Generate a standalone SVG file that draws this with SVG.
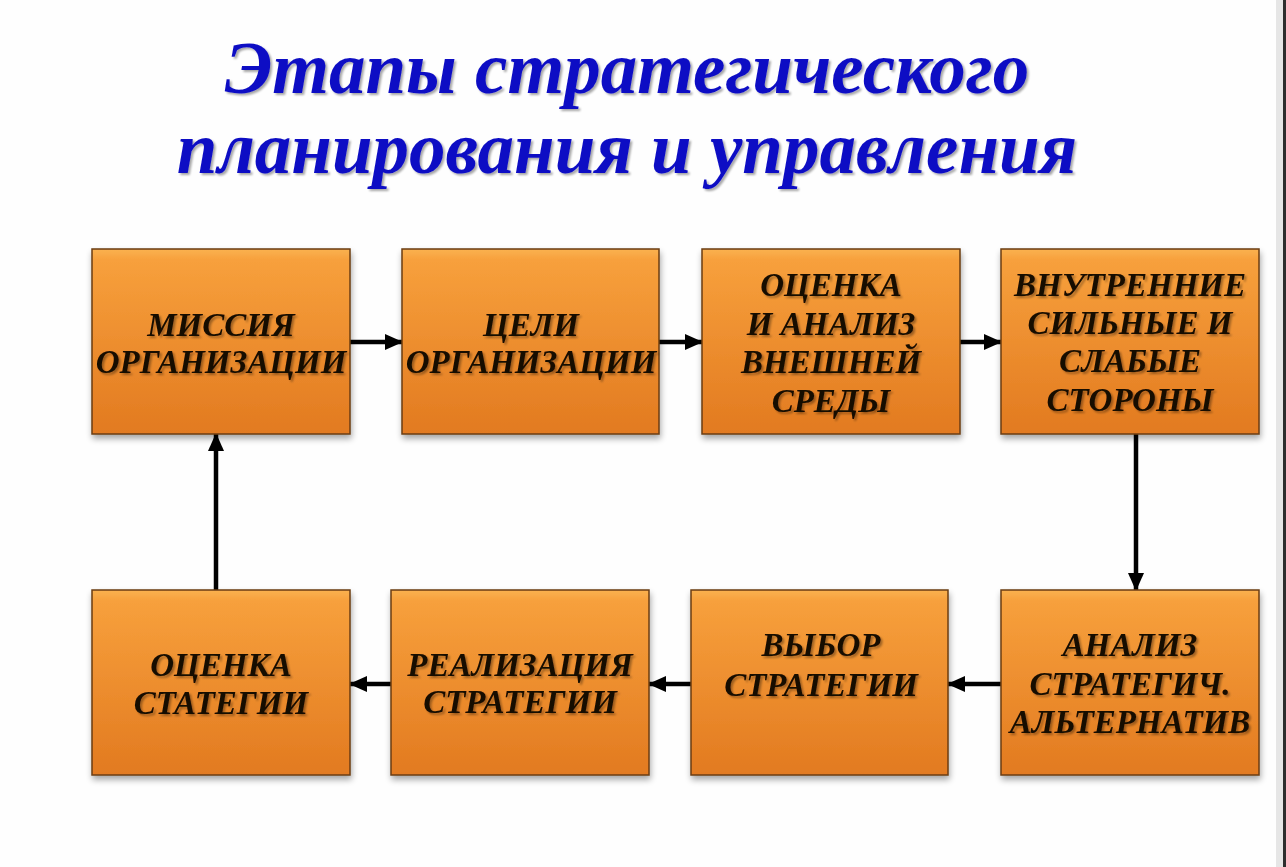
<svg xmlns="http://www.w3.org/2000/svg" width="1286" height="867" viewBox="0 0 1286 867">
<defs>
<linearGradient id="og" x1="0" y1="0" x2="0" y2="1">
<stop offset="0" stop-color="#fab250"/>
<stop offset="0.06" stop-color="#f7a03c"/>
<stop offset="1" stop-color="#e27a20"/>
</linearGradient>
<filter id="sh" x="-10%" y="-10%" width="125%" height="130%">
<feGaussianBlur in="SourceAlpha" stdDeviation="3"/>
<feOffset dx="1" dy="4" result="b"/>
<feComponentTransfer><feFuncA type="linear" slope="0.35"/></feComponentTransfer>
<feMerge><feMergeNode/><feMergeNode in="SourceGraphic"/></feMerge>
</filter>
<filter id="tsh" x="-5%" y="-20%" width="110%" height="150%">
<feGaussianBlur in="SourceAlpha" stdDeviation="1"/>
<feOffset dx="1.5" dy="1.5"/>
<feComponentTransfer><feFuncA type="linear" slope="0.35"/></feComponentTransfer>
<feMerge><feMergeNode/><feMergeNode in="SourceGraphic"/></feMerge>
</filter>
<marker id="ah" markerUnits="userSpaceOnUse" markerWidth="18" markerHeight="16" refX="17" refY="8" orient="auto">
<path d="M0,0 L18,8 L0,16 Z" fill="#000"/>
</marker>
</defs>
<style>
.box{fill:url(#og);stroke:#6b3d12;stroke-width:1.5;filter:url(#sh)}
.lbl{font-family:"Liberation Serif","Times New Roman",serif;font-weight:bold;font-style:italic;font-size:33px;fill:#170a02;text-anchor:middle;filter:url(#tsh)}
.ttl{font-family:"Liberation Serif","Times New Roman",serif;font-weight:bold;font-style:italic;font-size:73px;fill:#0f0fc4;text-anchor:middle;filter:url(#tsh)}
.con{stroke:#000;stroke-width:4.5;fill:none;marker-end:url(#ah)}
</style>
<rect width="1286" height="867" fill="#fefefe"/>
<rect x="1276" y="0" width="7" height="867" fill="#e6e6e6"/>
<rect x="1283" y="0" width="3" height="867" fill="#2e2e2e"/>
<g id="title">
<text class="ttl" x="627" y="93">Этапы стратегического</text>
<text class="ttl" x="627" y="173">планирования и управления</text>
</g>
<g id="connectors">
<line class="con" x1="350" y1="342" x2="402" y2="342"/>
<line class="con" x1="659" y1="342" x2="702" y2="342"/>
<line class="con" x1="960" y1="342" x2="1001" y2="342"/>
<line class="con" x1="1136" y1="434" x2="1136" y2="590"/>
<line class="con" x1="1001" y1="684" x2="948" y2="684"/>
<line class="con" x1="691" y1="684" x2="649" y2="684"/>
<line class="con" x1="391" y1="684" x2="350" y2="684"/>
<line class="con" x1="216" y1="590" x2="216" y2="434"/>
</g>
<g id="n1">
<rect class="box" x="92" y="249" width="258" height="185"/>
<text class="lbl" x="221" y="336">МИССИЯ</text>
<text class="lbl" x="221" y="373">ОРГАНИЗАЦИИ</text>
</g>
<g id="n2">
<rect class="box" x="402" y="249" width="257" height="185"/>
<text class="lbl" x="531" y="336">ЦЕЛИ</text>
<text class="lbl" x="531" y="373">ОРГАНИЗАЦИИ</text>
</g>
<g id="n3">
<rect class="box" x="702" y="249" width="258" height="185"/>
<text class="lbl" x="831" y="296">ОЦЕНКА</text>
<text class="lbl" x="831" y="335">И АНАЛИЗ</text>
<text class="lbl" x="831" y="373">ВНЕШНЕЙ</text>
<text class="lbl" x="831" y="412">СРЕДЫ</text>
</g>
<g id="n4">
<rect class="box" x="1001" y="249" width="258" height="185"/>
<text class="lbl" x="1130" y="296">ВНУТРЕННИЕ</text>
<text class="lbl" x="1130" y="334">СИЛЬНЫЕ И</text>
<text class="lbl" x="1130" y="372">СЛАБЫЕ</text>
<text class="lbl" x="1130" y="411">СТОРОНЫ</text>
</g>
<g id="n5">
<rect class="box" x="1001" y="590" width="258" height="185"/>
<text class="lbl" x="1130" y="656">АНАЛИЗ</text>
<text class="lbl" x="1130" y="695">СТРАТЕГИЧ.</text>
<text class="lbl" x="1130" y="733">АЛЬТЕРНАТИВ</text>
</g>
<g id="n6">
<rect class="box" x="691" y="590" width="257" height="185"/>
<text class="lbl" x="821" y="656">ВЫБОР</text>
<text class="lbl" x="821" y="696">СТРАТЕГИИ</text>
</g>
<g id="n7">
<rect class="box" x="391" y="590" width="258" height="185"/>
<text class="lbl" x="520" y="676">РЕАЛИЗАЦИЯ</text>
<text class="lbl" x="520" y="713">СТРАТЕГИИ</text>
</g>
<g id="n8">
<rect class="box" x="92" y="590" width="258" height="185"/>
<text class="lbl" x="221" y="676">ОЦЕНКА</text>
<text class="lbl" x="221" y="714">СТАТЕГИИ</text>
</g>
</svg>
